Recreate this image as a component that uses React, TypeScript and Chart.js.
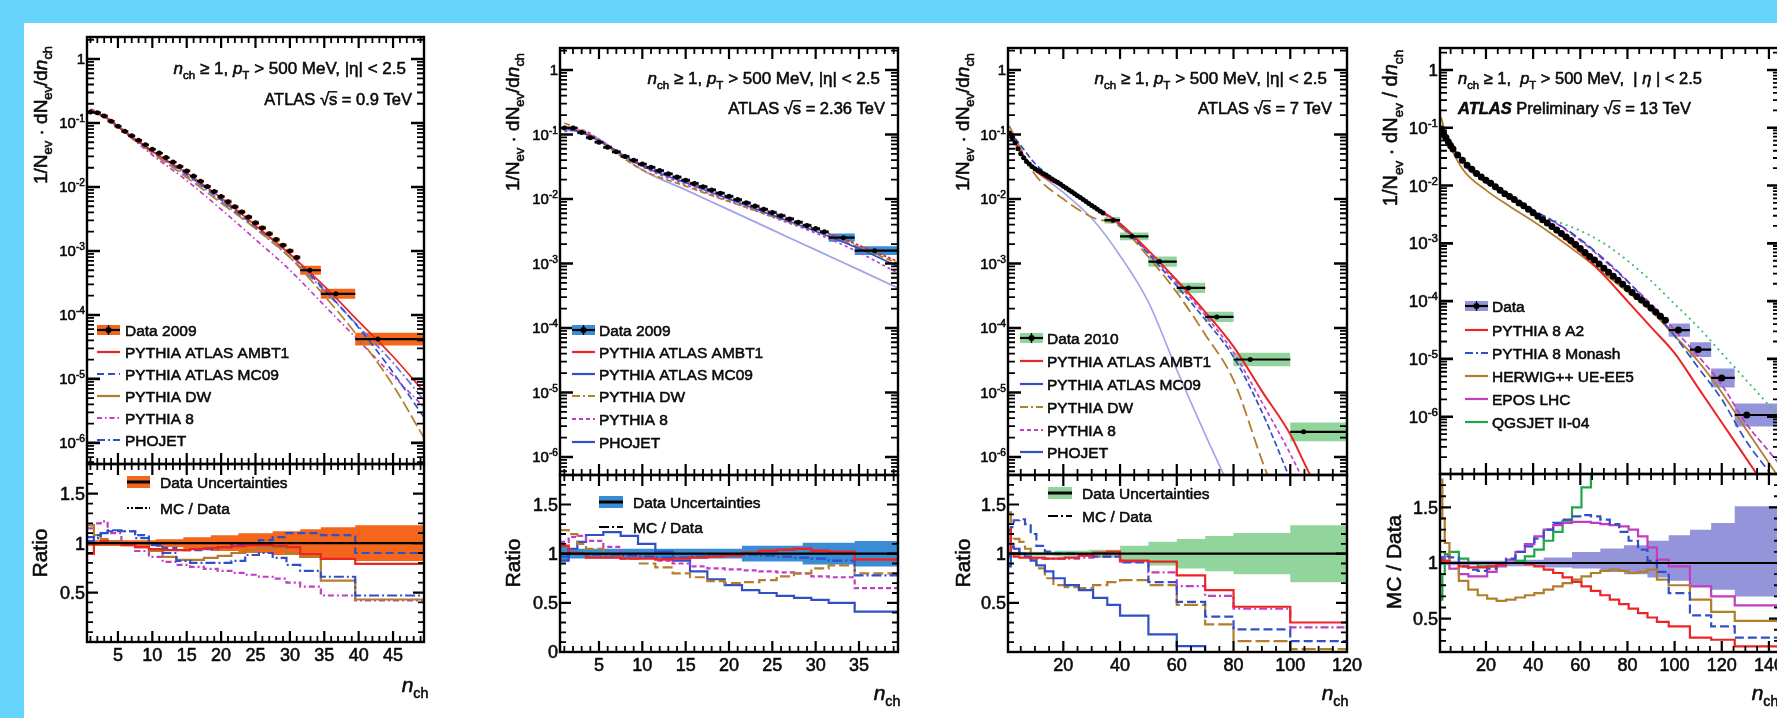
import { useEffect, useRef } from 'react';
import { Chart, registerables } from 'chart.js';

Chart.register(...registerables);

const FONT = '"Liberation Sans", Arial, Helvetica, sans-serif';
const FRAME_BLUE = '#66d4fb';

const RED = '#ec2424';
const BLUE = '#3050c8';
const BROWN = '#b27e2c';
const MAGENTA = '#c43cc4';
const GREEN = '#1ea64a';
const LAVENDER = '#a2a2ea';
const ORANGE_BAND = '#f3661c';
const BLUE_BAND = '#3a8dd5';
const GREEN_BAND = '#92d59c';
const PURPLE_BAND = '#9494da';

// ======================= DATA =======================
// ---- Panel 1 : sqrt(s) = 0.9 TeV
const p1DataEdges = [0.5, 1.5, 2.5, 3.5, 4.5, 5.5, 6.5, 7.5, 8.5, 9.5, 10.5, 11.5, 12.5, 13.5, 14.5, 15.5, 16.5, 17.5, 18.5, 19.5, 20.5, 21.5, 22.5, 23.5, 24.5, 25.5, 26.5, 27.5, 28.5, 29.5, 30.5, 31.5, 34.5, 39.5, 49.5];
const p1DataX = [1, 2, 3, 4, 5, 6, 7, 8, 9, 10, 11, 12, 13, 14, 15, 16, 17, 18, 19, 20, 21, 22, 23, 24, 25, 26, 27, 28, 29, 30, 31, 32.9, 36.7, 42.8];
const p1DataY = [0.148, 0.145, 0.129, 0.107, 0.0891, 0.0741, 0.0631, 0.0537, 0.0457, 0.0389, 0.0339, 0.0288, 0.0245, 0.0209, 0.0178, 0.0148, 0.0123, 0.0102, 0.00851, 0.00708, 0.00589, 0.0049, 0.00407, 0.00339, 0.00275, 0.00229, 0.00186, 0.00151, 0.00123, 0.001, 0.000794, 0.0005, 0.000214, 0.000042];
const p1DataErr = [0.05, 0.05, 0.05, 0.05, 0.05, 0.05, 0.05, 0.05, 0.05, 0.05, 0.05, 0.05, 0.05, 0.05, 0.05, 0.05, 0.05, 0.05, 0.05, 0.05, 0.08, 0.08, 0.08, 0.08, 0.08, 0.08, 0.08, 0.08, 0.08, 0.08, 0.08, 0.18, 0.2, 0.26];
const p1McX = [1, 3, 5, 10, 15, 20, 25, 30, 35, 40, 45, 49.5];
const p1Ambt1 = [0.148, 0.126, 0.0871, 0.0363, 0.0166, 0.00676, 0.00251, 0.000891, 0.000282, 0.0000794, 0.0000224, 0.00000631];
const p1Mc09 = [0.151, 0.129, 0.0891, 0.0363, 0.0158, 0.00631, 0.0024, 0.000891, 0.000251, 0.0000631, 0.0000126, 0.00000251];
const p1Dw = [0.158, 0.126, 0.0871, 0.0339, 0.0141, 0.00562, 0.00224, 0.000794, 0.0002, 0.0000447, 0.00000794, 0.0000012];
const p1Py8 = [0.166, 0.132, 0.0871, 0.0316, 0.0126, 0.00447, 0.00151, 0.000501, 0.000141, 0.0000398, 0.0000112, 0.00000363];
const p1Phojet = [0.151, 0.129, 0.0891, 0.0355, 0.0151, 0.00603, 0.00224, 0.000794, 0.00024, 0.0000661, 0.0000178, 0.00000468];
const p1RatioEdges = [0.5, 1.5, 2.5, 3.5, 5.5, 7.5, 9.5, 11.5, 13.5, 15.5, 17.5, 19.5, 21.5, 23.5, 25.5, 27.5, 29.5, 31.5, 34.5, 39.5, 49.5];
const p1RAmbt1 = [0.89, 1.0, 1.02, 1.0, 0.98, 0.96, 0.94, 0.93, 0.93, 0.94, 0.95, 0.96, 0.97, 0.98, 0.98, 0.97, 0.96, 0.89, 0.84, 0.79];
const p1RMc09 = [1.06, 1.08, 1.1, 1.12, 1.12, 1.08, 1.0, 0.95, 0.93, 0.93, 0.94, 0.96, 0.98, 1.0, 1.03, 1.06, 1.1, 1.1, 1.08, 0.9];
const p1RPhojet = [1.02, 1.05, 1.1, 1.13, 1.12, 1.05, 0.98, 0.9, 0.82, 0.8, 0.8, 0.8, 0.82, 0.88, 0.9, 0.85, 0.78, 0.72, 0.66, 0.47];
const p1RDw = [1.18, 1.08, 1.04, 1.02, 0.98, 0.96, 0.92, 0.86, 0.83, 0.83, 0.85, 0.87, 0.9, 0.93, 0.95, 0.95, 0.9, 0.86, 0.62, 0.43];
const p1RPy8 = [1.15, 1.2, 1.22, 1.1, 1.0, 0.92, 0.86, 0.81, 0.78, 0.76, 0.74, 0.72, 0.7, 0.68, 0.66, 0.64, 0.6, 0.56, 0.47, 0.42];
const p1BandEdges = [0.5, 10.5, 14.5, 18.5, 22.5, 27.5, 31.5, 34.5, 39.5, 49.5];
const p1BandHalf = [0.03, 0.04, 0.06, 0.08, 0.1, 0.12, 0.14, 0.16, 0.18];
const p1XTicks = [5, 10, 15, 20, 25, 30, 35, 40, 45];

// ---- Panel 2 : sqrt(s) = 2.36 TeV
const p2DataEdges = [0.5, 1.5, 2.5, 3.5, 4.5, 5.5, 6.5, 7.5, 8.5, 9.5, 10.5, 11.5, 12.5, 13.5, 14.5, 15.5, 16.5, 17.5, 18.5, 19.5, 20.5, 21.5, 22.5, 23.5, 24.5, 25.5, 26.5, 27.5, 28.5, 29.5, 30.5, 31.5, 34.5, 39.5];
const p2DataX = [1, 2, 3, 4, 5, 6, 7, 8, 9, 10, 11, 12, 13, 14, 15, 16, 17, 18, 19, 20, 21, 22, 23, 24, 25, 26, 27, 28, 29, 30, 31, 33.2, 36.8];
const p2DataY = [0.126, 0.126, 0.107, 0.0891, 0.0759, 0.0631, 0.0537, 0.0457, 0.0398, 0.0347, 0.0309, 0.0275, 0.0245, 0.0219, 0.0195, 0.0174, 0.0155, 0.0138, 0.0123, 0.011, 0.00977, 0.00871, 0.00776, 0.00692, 0.00617, 0.0055, 0.0049, 0.00437, 0.00389, 0.00347, 0.00309, 0.00251, 0.00158];
const p2DataErr = [0.06, 0.06, 0.06, 0.06, 0.06, 0.06, 0.06, 0.06, 0.06, 0.06, 0.06, 0.06, 0.06, 0.06, 0.06, 0.06, 0.06, 0.06, 0.06, 0.06, 0.06, 0.06, 0.06, 0.06, 0.06, 0.06, 0.06, 0.06, 0.06, 0.06, 0.06, 0.16, 0.17];
const p2McX = [1, 3, 5, 10, 15, 20, 25, 30, 35, 39.5];
const p2Ambt1 = [0.135, 0.112, 0.0794, 0.0339, 0.0191, 0.0107, 0.00617, 0.00347, 0.00191, 0.00107];
const p2Mc09 = [0.126, 0.107, 0.0794, 0.0324, 0.0178, 0.01, 0.00562, 0.00316, 0.0017, 0.000891];
const p2Dw = [0.151, 0.117, 0.0794, 0.0282, 0.0158, 0.00912, 0.00537, 0.00316, 0.00178, 0.001];
const p2Py8 = [0.112, 0.117, 0.0832, 0.0316, 0.0166, 0.00933, 0.00525, 0.00295, 0.00148, 0.000708];
const p2Phojet = [0.117, 0.112, 0.0851, 0.0282, 0.0138, 0.00676, 0.00331, 0.00162, 0.000794, 0.000417];
const p2RatioEdges = [0.5, 1.5, 2.5, 3.5, 5.5, 7.5, 9.5, 11.5, 13.5, 15.5, 17.5, 19.5, 21.5, 23.5, 25.5, 27.5, 29.5, 31.5, 34.5, 39.5];
const p2RAmbt1 = [1.08, 1.01, 1.0, 0.96, 0.96, 0.95, 0.95, 0.94, 0.95, 0.96, 0.97, 0.98, 1.01, 1.03, 1.04, 1.05, 1.03, 1.02, 0.94];
const p2RMc09 = [0.97, 1.0, 1.0, 0.99, 0.99, 0.98, 0.97, 0.96, 0.96, 0.97, 0.98, 0.99, 0.99, 0.98, 0.97, 0.96, 0.95, 0.93, 0.78];
const p2RDw = [1.24, 1.2, 1.1, 1.05, 1.0, 0.95, 0.9, 0.86, 0.8, 0.76, 0.72, 0.7, 0.71, 0.73, 0.77, 0.8, 0.85, 0.88, 0.8];
const p2RPy8 = [1.12, 1.17, 1.18, 1.13, 1.07, 1.0, 0.96, 0.93, 0.9, 0.87, 0.85, 0.84, 0.83, 0.82, 0.81, 0.8, 0.77, 0.76, 0.65];
const p2RPhojet = [0.93, 1.05, 1.12, 1.19, 1.22, 1.18, 1.1, 1.02, 0.93, 0.82, 0.74, 0.68, 0.63, 0.6, 0.57, 0.55, 0.53, 0.5, 0.41];
const p2BandEdges = [0.5, 1.5, 21.5, 28.5, 34.5, 39.5];
const p2BandHalf = [0.08, 0.05, 0.08, 0.11, 0.13];
const p2XTicks = [5, 10, 15, 20, 25, 30, 35];

// ---- Panel 3 : sqrt(s) = 7 TeV
const p3DataEdges = [0.5, 1.5, 2.5, 3.5, 4.5, 5.5, 6.5, 7.5, 8.5, 9.5, 10.5, 11.5, 12.5, 13.5, 14.5, 15.5, 16.5, 17.5, 18.5, 19.5, 20.5, 21.5, 22.5, 23.5, 24.5, 25.5, 26.5, 27.5, 28.5, 29.5, 30.5, 31.5, 32.5, 33.5, 34.5, 40, 50, 60, 70, 80, 100, 120];
const p3DataX = [1, 2, 3, 4, 5, 6, 7, 8, 9, 10, 11, 12, 13, 14, 15, 16, 17, 18, 19, 20, 21, 22, 23, 24, 25, 26, 27, 28, 29, 30, 31, 32, 33, 34, 37.6, 44.1, 53.9, 64.1, 74.1, 85.9, 104.7];
const p3DataY = [0.105, 0.0891, 0.0741, 0.0603, 0.0501, 0.0437, 0.038, 0.0347, 0.0316, 0.0295, 0.0275, 0.0263, 0.0245, 0.0234, 0.0219, 0.0204, 0.0191, 0.0182, 0.017, 0.0158, 0.0148, 0.0138, 0.0129, 0.012, 0.0112, 0.0105, 0.00977, 0.00912, 0.00851, 0.00794, 0.00741, 0.00692, 0.00646, 0.00603, 0.00468, 0.00263, 0.00107, 0.000417, 0.000148, 0.0000324, 0.00000245];
const p3DataErr = [0.04, 0.04, 0.04, 0.04, 0.04, 0.04, 0.04, 0.04, 0.04, 0.04, 0.04, 0.04, 0.04, 0.04, 0.04, 0.04, 0.04, 0.04, 0.04, 0.04, 0.04, 0.04, 0.04, 0.04, 0.04, 0.04, 0.04, 0.04, 0.04, 0.04, 0.04, 0.04, 0.04, 0.04, 0.12, 0.15, 0.2, 0.2, 0.2, 0.27, 0.4];
const p3McX = [1, 5, 10, 20, 30, 40, 50, 60, 70, 80, 90, 100, 105, 110];
const p3Ambt1 = [0.112, 0.0537, 0.0282, 0.0151, 0.00794, 0.00417, 0.00158, 0.00055, 0.000178, 0.0000513, 0.0000105, 0.00000224, 0.000000794, 0.000000282];
const p3Mc09 = [0.112, 0.0676, 0.0355, 0.0158, 0.00794, 0.00398, 0.00141, 0.000447, 0.000135, 0.0000355, 0.00000501, 0.000000447, 0.000000126, null];
const p3Py8 = [0.1, 0.0525, 0.0288, 0.0151, 0.00759, 0.00398, 0.00148, 0.000501, 0.000158, 0.0000417, 0.00000708, 0.00000112, 0.000000398, null];
const p3Dw = [0.135, 0.0603, 0.024, 0.01, 0.00525, 0.00372, 0.00126, 0.000355, 0.0000794, 0.0000155, 0.000000891, 0.0000000631, null, null];
const p3Phojet = [0.105, 0.0501, 0.0282, 0.0126, 0.00501, 0.00132, 0.000251, 0.0000224, 0.00000224, 0.000000251, null, null, null, null];
const p3RatioEdges = [0.5, 1.5, 2.5, 4.5, 6.5, 8.5, 10.5, 13.5, 16.5, 20.5, 25.5, 30.5, 35.5, 40, 50, 60, 70, 80, 100, 120];
const p3RAmbt1 = [1.24, 1.0, 0.97, 0.96, 0.96, 0.96, 0.96, 0.95, 0.95, 0.96, 0.98, 1.01, 1.02, 0.93, 0.92, 0.78, 0.63, 0.46, 0.3];
const p3RMc09 = [0.97, 1.27, 1.34, 1.35, 1.3, 1.2, 1.08, 1.02, 1.0, 1.0, 0.99, 0.97, 0.97, 0.91, 0.71, 0.51, 0.36, 0.23, 0.11];
const p3RPhojet = [0.87, 1.07, 1.05, 1.0, 0.97, 0.93, 0.88, 0.82, 0.75, 0.68, 0.63, 0.55, 0.48, 0.37, 0.18, 0.06, -0.2, -0.2, -0.2];
const p3RPy8 = [1.1, 1.1, 1.05, 1.0, 0.97, 0.95, 0.95, 0.95, 0.95, 0.95, 0.96, 0.97, 0.97, 0.92, 0.81, 0.67, 0.57, 0.44, 0.25];
const p3RDw = [1.42, 1.13, 1.15, 1.12, 1.05, 0.95, 0.85, 0.75, 0.68, 0.66, 0.65, 0.68, 0.71, 0.73, 0.68, 0.48, 0.28, 0.11, 0.03];
const p3BandEdges = [0.5, 17, 29, 40, 50, 60, 70, 80, 100, 120];
const p3BandHalf = [0.02, 0.03, 0.04, 0.08, 0.12, 0.15, 0.18, 0.21, 0.29];
const p3XTicks = [20, 40, 60, 80, 100, 120];

// ---- Panel 4 : sqrt(s) = 13 TeV
const p4DataEdges = [0.5, 1.5, 2.5, 3.5, 4.5, 5.5, 7, 9, 11, 13, 15, 17, 19, 21, 23, 25, 27, 29, 31, 33, 35, 37, 39, 41, 43, 45, 47, 49, 51, 53, 55, 57, 59, 61, 63, 65, 67, 69, 71, 73, 75, 77, 79, 81, 83, 85, 87, 89, 91, 93, 95, 97.5, 106.5, 115.5, 125.5, 150];
const p4DataX = [1, 2, 3, 4, 5, 6, 8, 10, 12, 14, 16, 18, 20, 22, 24, 26, 28, 30, 32, 34, 36, 38, 40, 42, 44, 46, 48, 50, 52, 54, 56, 58, 60, 62, 64, 66, 68, 70, 72, 74, 76, 78, 80, 82, 84, 86, 88, 90, 92, 94, 96, 101.6, 110, 120, 130.6];
const p4DataY = [0.0955, 0.0794, 0.0676, 0.0575, 0.049, 0.0427, 0.0339, 0.0275, 0.0224, 0.0191, 0.0162, 0.0141, 0.0123, 0.011, 0.00955, 0.00832, 0.00724, 0.00646, 0.00575, 0.00501, 0.00447, 0.00389, 0.00339, 0.00295, 0.00257, 0.00224, 0.00195, 0.0017, 0.00148, 0.00129, 0.00112, 0.000955, 0.000813, 0.000692, 0.000589, 0.000513, 0.000437, 0.000372, 0.000316, 0.000269, 0.000229, 0.000195, 0.000166, 0.000141, 0.00012, 0.000105, 0.0000891, 0.0000759, 0.0000646, 0.000055, 0.0000468, 0.0000316, 0.0000145, 0.00000468, 0.00000107];
const p4DataErr = [0.03, 0.03, 0.03, 0.03, 0.03, 0.03, 0.03, 0.03, 0.03, 0.03, 0.03, 0.03, 0.03, 0.03, 0.03, 0.03, 0.03, 0.03, 0.03, 0.03, 0.03, 0.03, 0.03, 0.06, 0.06, 0.06, 0.06, 0.06, 0.06, 0.06, 0.06, 0.06, 0.06, 0.06, 0.06, 0.06, 0.06, 0.06, 0.12, 0.12, 0.12, 0.12, 0.12, 0.12, 0.12, 0.12, 0.12, 0.12, 0.12, 0.12, 0.12, 0.3, 0.34, 0.46, 0.58];
const p4McX = [1, 3, 10, 20, 30, 40, 50, 60, 70, 80, 90, 100, 110, 120, 130, 140, 150];
const p4A2 = [0.1, 0.0676, 0.0275, 0.0123, 0.00646, 0.00331, 0.00158, 0.000708, 0.000282, 0.0001, 0.0000355, 0.0000126, 0.00000316, 0.000000794, 0.0000002, 0.0000000501, 0.0000000126];
const p4Monash = [0.1, 0.0724, 0.0269, 0.0126, 0.00676, 0.0038, 0.00224, 0.00117, 0.000537, 0.000224, 0.0000794, 0.0000251, 0.00000708, 0.000002, 0.000000398, 0.000000112, 0.0000000316];
const p4Herwig = [0.151, 0.075, 0.0195, 0.00832, 0.00437, 0.0024, 0.00126, 0.000631, 0.000302, 0.000145, 0.0000676, 0.0000251, 0.00000912, 0.00000263, 0.000000631, 0.000000158, 0.0000000398];
const p4Epos = [0.1, 0.0708, 0.0245, 0.0112, 0.00631, 0.00363, 0.00219, 0.00112, 0.000513, 0.000219, 0.0000891, 0.0000316, 0.0000112, 0.00000355, 0.000000794, 0.000000251, 0.0000000794];
const p4Qgsjet = [0.0646, 0.0676, 0.0282, 0.0126, 0.00661, 0.00355, 0.0024, 0.00166, 0.001, 0.000501, 0.000224, 0.0000891, 0.0000355, 0.0000126, 0.00000447, 0.00000158, 0.000000562];
const p4RatioEdges = [0.5, 1.5, 2.5, 4.5, 8.5, 12.5, 16.5, 20.5, 24.5, 28.5, 32.5, 36.5, 40.5, 44.5, 48.5, 52.5, 56.5, 60.5, 64.5, 68.5, 72.5, 76.5, 80.5, 84.5, 88.5, 92.5, 97.5, 106.5, 115.5, 125.5, 150];
const p4RA2 = [1.0, 1.02, 1.02, 1.0, 0.97, 0.96, 0.96, 0.97, 0.99, 1.0, 1.0, 0.99, 0.97, 0.94, 0.91, 0.87, 0.83, 0.79, 0.75, 0.71, 0.67, 0.63, 0.59, 0.55, 0.51, 0.47, 0.43, 0.33, 0.31, 0.25];
const p4RMonash = [1.0, 1.05, 1.06, 1.05, 0.97, 0.94, 0.93, 0.95, 0.99, 1.04, 1.1, 1.15, 1.22, 1.3, 1.36, 1.39, 1.42, 1.43, 1.42, 1.39, 1.35, 1.28, 1.2, 1.12, 1.02, 0.92, 0.73, 0.53, 0.43, 0.33];
const p4REpos = [1.02, 1.05, 1.02, 0.95, 0.9, 0.88, 0.88, 0.92, 0.97, 1.03, 1.1, 1.17, 1.24, 1.3, 1.34, 1.36, 1.37, 1.37, 1.36, 1.35, 1.34, 1.33, 1.3, 1.24, 1.14, 1.03, 0.97, 0.79, 0.7, 0.62];
const p4RHerwig = [1.75, 1.4, 1.18, 1.0, 0.84, 0.76, 0.71, 0.68, 0.66, 0.67, 0.69, 0.71, 0.73, 0.76, 0.79, 0.82, 0.85, 0.88, 0.91, 0.93, 0.94, 0.93, 0.91, 0.92, 0.94, 0.85, 0.8, 0.67, 0.56, 0.48];
const p4RQgsjet = [0.67, 0.9, 1.08, 1.1, 1.04, 1.0, 0.97, 0.97, 0.98, 1.0, 1.02, 1.06, 1.12, 1.2, 1.28, 1.38, 1.5, 1.68, 1.86, null, null, null, null, null, null, null, null, null, null, null];
const p4BandEdges = [0.5, 28.5, 44.5, 56.5, 68.5, 78.5, 88.5, 97.5, 106.5, 115.5, 125.5, 150];
const p4BandUp = [1.02, 1.03, 1.05, 1.1, 1.13, 1.16, 1.2, 1.25, 1.3, 1.36, 1.51];
const p4BandLo = [0.98, 0.97, 0.96, 0.95, 0.92, 0.9, 0.87, 0.84, 0.79, 0.76, 0.7];
const p4XTicks = [20, 40, 60, 80, 100, 120, 140];

const logDecadeLabels6 = [1, 0.1, 0.01, 0.001, 0.0001, 0.00001, 0.000001];

// ======================= TYPES & HELPERS =======================
type Seg = { t: string; it?: boolean; b?: boolean; sub?: boolean; sup?: boolean; over?: boolean };
type TextItem = { x: number; y: number; segs: Seg[]; size: number; align: 'left' | 'right' | 'center'; rot?: boolean };
type LegendItem = { kind: 'line' | 'data' | 'band'; x1: number; x2: number; y: number; color: string; dash?: number[]; tx: number; segs: Seg[]; size: number };
type Spec = {
  ox: number; oy: number; w: number; h: number;
  pad: { left: number; right: number; top: number; bottom: number };
  xMin: number; xMax: number; yMin: number; yMax: number; log: boolean;
  xMajor: number; xMinor: number; xLabels: number[];
  yLabels: number[]; yLabelSize: number;
  datasets: any[]; texts: TextItem[]; legend: LegendItem[];
};
type Geom = { L: number; R: number; T: number; M: number; B: number };
type Pt = { x: number; y: number | null };

const TEXT_COLOR = '#0a0a0a';

function segFont(s: Seg, size: number) {
  const sz = s.sub || s.sup ? size * 0.68 : size;
  return `${s.it ? 'italic ' : ''}${s.b ? 'bold ' : ''}${sz}px ${FONT}`;
}
function drawSegs(ctx: CanvasRenderingContext2D, segs: Seg[], x: number, y: number, size: number, align: 'left' | 'right' | 'center', color = TEXT_COLOR) {
  let w = 0;
  for (const s of segs) { ctx.font = segFont(s, size); w += ctx.measureText(s.t).width; }
  let cx = align === 'left' ? x : align === 'right' ? x - w : x - w / 2;
  ctx.textAlign = 'left';
  ctx.textBaseline = 'alphabetic';
  ctx.fillStyle = color;
  ctx.strokeStyle = color;
  ctx.setLineDash([]);
  ctx.lineJoin = 'round';
  for (const s of segs) {
    ctx.font = segFont(s, size);
    const dy = s.sub ? size * 0.28 : s.sup ? -size * 0.42 : 0;
    ctx.fillText(s.t, cx, y + dy);
    ctx.lineWidth = 0.55;
    ctx.strokeText(s.t, cx, y + dy);
    const sw = ctx.measureText(s.t).width;
    if (s.over) {
      ctx.beginPath(); ctx.lineWidth = 1.4;
      ctx.moveTo(cx - 1, y - size * 0.8); ctx.lineTo(cx + sw, y - size * 0.8); ctx.stroke();
    }
    cx += sw;
  }
}

function stepPoints(edges: number[], vals: (number | null)[]): Pt[] {
  const pts: Pt[] = vals.map((v, i) => ({ x: edges[i], y: v }));
  pts.push({ x: edges[vals.length], y: vals[vals.length - 1] });
  return pts;
}
function barPoints(edges: number[], vals: number[]): Pt[] {
  const pts: Pt[] = [];
  vals.forEach((v, i) => { pts.push({ x: edges[i], y: v }, { x: edges[i + 1], y: v }, { x: edges[i + 1], y: null }); });
  return pts;
}
function curvePoints(xs: number[], vals: (number | null)[]): Pt[] {
  return xs.map((x, i) => ({ x, y: vals[i] }));
}

function bandDs(edges: number[], up: number[], lo: number[], color: string) {
  return [
    { data: stepPoints(edges, up), stepped: true, borderWidth: 0, borderColor: 'rgba(0,0,0,0)', pointRadius: 0, fill: false, order: 20 },
    { data: stepPoints(edges, lo), stepped: true, borderWidth: 0, borderColor: 'rgba(0,0,0,0)', pointRadius: 0, fill: '-1', backgroundColor: color, order: 20 },
  ];
}
function topDataDs(edges: number[], xs: number[], ys: number[], err: number[], color: string, r: number) {
  return [
    ...bandDs(edges, ys.map((v, i) => v * (1 + err[i])), ys.map((v, i) => v / (1 + err[i])), color),
    { data: barPoints(edges, ys), borderColor: '#000', borderWidth: 2.2, pointRadius: 0, spanGaps: false, fill: false, order: 1 },
    { data: curvePoints(xs, ys), showLine: false, pointRadius: r, pointBackgroundColor: '#000', pointBorderWidth: 0, order: 0 },
  ];
}
function curveDs(xs: number[], ys: (number | null)[], color: string, dash: number[] = [], width = 1.7) {
  return { data: curvePoints(xs, ys), borderColor: color, borderWidth: width, borderDash: dash, pointRadius: 0, fill: false, spanGaps: false, cubicInterpolationMode: 'monotone', order: 5 };
}
function stepDs(edges: number[], ys: (number | null)[], color: string, dash: number[] = [], width = 2.2) {
  return { data: stepPoints(edges, ys), stepped: true, borderColor: color, borderWidth: width, borderDash: dash, pointRadius: 0, fill: false, spanGaps: false, order: 5 };
}
function unityDs(x0: number, x1: number) {
  return { data: [{ x: x0, y: 1 }, { x: x1, y: 1 }], borderColor: '#000', borderWidth: 2.2, pointRadius: 0, fill: false, order: 2 };
}

function decoPlugin(s: Spec) {
  return {
    id: 'rootDeco',
    afterDraw(chart: any) {
      const ctx = chart.ctx as CanvasRenderingContext2D;
      const a = chart.chartArea;
      const xs = chart.scales.x, ys = chart.scales.y;
      ctx.save();
      ctx.strokeStyle = '#000';
      ctx.setLineDash([]);
      ctx.lineCap = 'butt';
      const eps = 1e-6;
      const k0 = Math.ceil((s.xMin + eps) / s.xMinor), k1 = Math.floor((s.xMax - eps) / s.xMinor);
      for (let k = k0; k <= k1; k++) {
        const v = k * s.xMinor;
        const major = Math.abs(v / s.xMajor - Math.round(v / s.xMajor)) < 1e-6;
        const len = major ? 11 : 6;
        const px = xs.getPixelForValue(v);
        ctx.lineWidth = major ? 2.2 : 1.8;
        ctx.beginPath();
        ctx.moveTo(px, a.bottom); ctx.lineTo(px, a.bottom - len);
        ctx.moveTo(px, a.top); ctx.lineTo(px, a.top + len);
        ctx.stroke();
      }
      const yt = (v: number, len: number, w: number) => {
        const py = ys.getPixelForValue(v);
        ctx.lineWidth = w;
        ctx.beginPath();
        ctx.moveTo(a.left, py); ctx.lineTo(a.left + len, py);
        ctx.moveTo(a.right, py); ctx.lineTo(a.right - len, py);
        ctx.stroke();
      };
      if (s.log) {
        const d0 = Math.floor(Math.log10(s.yMin)), d1 = Math.ceil(Math.log10(s.yMax));
        for (let d = d0; d <= d1; d++) {
          for (let k = 1; k <= 9; k++) {
            const v = k * Math.pow(10, d);
            if (v <= s.yMin || v >= s.yMax) continue;
            yt(v, k === 1 ? 13 : 7, k === 1 ? 2.6 : 1.8);
          }
        }
      } else {
        for (let k = Math.ceil(s.yMin * 10 + eps); k <= Math.floor(s.yMax * 10 - eps); k++) {
          const major = k % 5 === 0;
          yt(k / 10, major ? 11 : 6, major ? 2.2 : 1.8);
        }
      }
      ctx.lineWidth = 2.4;
      ctx.strokeRect(a.left, a.top, a.right - a.left, a.bottom - a.top);

      for (const v of s.yLabels) {
        const py = ys.getPixelForValue(v);
        if (s.log) {
          const d = Math.round(Math.log10(v));
          const segs: Seg[] = d === 0 ? [{ t: '1' }] : [{ t: '10' }, { t: String(d), sup: true }];
          drawSegs(ctx, segs, a.left - 2, py + s.yLabelSize * 0.36, s.yLabelSize, 'right');
        } else {
          drawSegs(ctx, [{ t: String(v) }], a.left - 2, py + s.yLabelSize * 0.36, s.yLabelSize, 'right');
        }
      }
      for (const v of s.xLabels) {
        drawSegs(ctx, [{ t: String(v) }], xs.getPixelForValue(v), a.bottom + 19, 18, 'center');
      }
      for (const L of s.legend) {
        const x1 = L.x1 - s.ox, x2 = L.x2 - s.ox, y = L.y - s.oy;
        if (L.kind === 'line') {
          ctx.setLineDash(L.dash || []);
          ctx.strokeStyle = L.color; ctx.lineWidth = 2.2;
          ctx.beginPath(); ctx.moveTo(x1, y); ctx.lineTo(x2, y); ctx.stroke();
          ctx.setLineDash([]);
        } else if (L.kind === 'data') {
          ctx.fillStyle = L.color; ctx.fillRect(x1, y - 5, x2 - x1, 10);
          ctx.strokeStyle = '#000'; ctx.lineWidth = 2.2;
          ctx.beginPath(); ctx.moveTo(x1, y); ctx.lineTo(x2, y); ctx.stroke();
          ctx.lineWidth = 1.4;
          ctx.beginPath(); ctx.moveTo((x1 + x2) / 2, y - 5); ctx.lineTo((x1 + x2) / 2, y + 5); ctx.stroke();
          ctx.fillStyle = '#000'; ctx.beginPath(); ctx.arc((x1 + x2) / 2, y, 3, 0, Math.PI * 2); ctx.fill();
        } else {
          ctx.fillStyle = L.color; ctx.fillRect(x1, y - 6, x2 - x1, 12);
          ctx.strokeStyle = '#000'; ctx.lineWidth = 3;
          ctx.beginPath(); ctx.moveTo(x1, y); ctx.lineTo(x2, y); ctx.stroke();
        }
        drawSegs(ctx, L.segs, L.tx - s.ox, y + L.size * 0.36, L.size, 'left');
      }
      for (const T of s.texts) {
        const x = T.x - s.ox, y = T.y - s.oy;
        if (T.rot) {
          ctx.save(); ctx.translate(x, y); ctx.rotate(-Math.PI / 2);
          drawSegs(ctx, T.segs, 0, T.size * 0.36, T.size, 'center');
          ctx.restore();
        } else drawSegs(ctx, T.segs, x, y, T.size, T.align);
      }
      ctx.restore();
    },
  };
}

function buildChart(canvas: HTMLCanvasElement, s: Spec) {
  return new Chart(canvas, {
    type: 'line',
    data: { datasets: s.datasets },
    options: {
      animation: false, responsive: false, maintainAspectRatio: false, devicePixelRatio: 1,
      events: [],
      layout: { padding: s.pad },
      plugins: { legend: { display: false }, tooltip: { enabled: false } },
      scales: {
        x: { type: 'linear', min: s.xMin, max: s.xMax, display: false },
        y: { type: s.log ? 'logarithmic' : 'linear', min: s.yMin, max: s.yMax, display: false },
      },
      elements: { point: { radius: 0 } },
    },
    plugins: [decoPlugin(s)],
  } as any);
}

function topBox(g: Geom) {
  const pad = { left: 92, right: 14, top: 10, bottom: 6 };
  return { ox: g.L - pad.left, oy: g.T - pad.top, w: g.R - g.L + pad.left + pad.right, h: g.M - g.T + pad.top + pad.bottom, pad };
}
function ratioBox(g: Geom) {
  const pad = { left: 92, right: 36, top: 6, bottom: 66 };
  return { ox: g.L - pad.left, oy: g.M - pad.top, w: g.R - g.L + pad.left + pad.right, h: g.B - g.M + pad.top + pad.bottom, pad };
}
function legend(x1: number, x2: number, tx: number, rows: number[], items: { kind: 'line' | 'data' | 'band'; color: string; dash?: number[]; segs: Seg[] }[], size = 15.5): LegendItem[] {
  return items.map((it, i) => ({ ...it, x1, x2, tx, y: rows[i], size }));
}
const txt = (t: string): Seg[] => [{ t }];
const NCH: Seg[] = [{ t: 'n', it: true }, { t: 'ch', sub: true }];
const YTITLE: Seg[] = [{ t: '1/N' }, { t: 'ev', sub: true }, { t: ' · dN' }, { t: 'ev', sub: true }, { t: '/d' }, { t: 'n', it: true }, { t: 'ch', sub: true }];
const YTITLE4: Seg[] = [{ t: '1/N' }, { t: 'ev', sub: true }, { t: ' · dN' }, { t: 'ev', sub: true }, { t: ' / d' }, { t: 'n', it: true }, { t: 'ch', sub: true }];
const CUTS: Seg[] = [{ t: 'n', it: true }, { t: 'ch', sub: true }, { t: ' ≥ 1, ' }, { t: 'p', it: true }, { t: 'T', sub: true }, { t: ' > 500 MeV, |η| < 2.5' }];
const CUTS4: Seg[] = [{ t: 'n', it: true }, { t: 'ch', sub: true }, { t: ' ≥ 1,  ' }, { t: 'p', it: true }, { t: 'T', sub: true }, { t: ' > 500 MeV,  | ' }, { t: 'η', it: true }, { t: ' | < 2.5' }];
const atlas = (e: string): Seg[] => [{ t: 'ATLAS ' }, { t: '√' }, { t: 's', over: true }, { t: ` = ${e} TeV` }];

// ======================= PANELS =======================
function makeSpecs(): Spec[] {
  const specs: Spec[] = [];
  // ---------- Panel 1
  {
    const g: Geom = { L: 87, R: 424, T: 37, M: 464, B: 642 };
    const tb = topBox(g), rb = ratioBox(g);
    specs.push({
      ...tb, xMin: 0.5, xMax: 49.5, yMin: 4.68e-7, yMax: 2.21, log: true, xMajor: 5, xMinor: 1, xLabels: [],
      yLabels: logDecadeLabels6, yLabelSize: 15,
      datasets: [
        ...topDataDs(p1DataEdges, p1DataX, p1DataY, p1DataErr, ORANGE_BAND, 2.5),
        curveDs(p1McX, p1Ambt1, RED),
        curveDs(p1McX, p1Mc09, BLUE, [7, 4]),
        curveDs(p1McX, p1Dw, BROWN, [12, 4]),
        curveDs(p1McX, p1Py8, MAGENTA, [5, 3, 1.5, 3]),
        curveDs(p1McX, p1Phojet, '#6a78dc', [8, 3, 2, 3]),
      ],
      texts: [
        { x: 406, y: 74, segs: CUTS, size: 17, align: 'right' },
        { x: 412, y: 105, segs: atlas('0.9'), size: 16.5, align: 'right' },
        { x: 40, y: 115, segs: YTITLE, size: 19, align: 'center', rot: true },
      ],
      legend: legend(97, 120, 125, [330, 352, 374, 396, 418, 440], [
        { kind: 'data', color: ORANGE_BAND, segs: txt('Data 2009') },
        { kind: 'line', color: RED, segs: txt('PYTHIA ATLAS AMBT1') },
        { kind: 'line', color: BLUE, dash: [7, 4], segs: txt('PYTHIA ATLAS MC09') },
        { kind: 'line', color: BROWN, segs: txt('PYTHIA DW') },
        { kind: 'line', color: MAGENTA, dash: [5, 3, 1.5, 3], segs: txt('PYTHIA 8') },
        { kind: 'line', color: BLUE, dash: [8, 3, 2, 3], segs: txt('PHOJET') },
      ]),
    });
    specs.push({
      ...rb, xMin: 0.5, xMax: 49.5, yMin: 0, yMax: 1.8, log: false, xMajor: 5, xMinor: 1, xLabels: p1XTicks,
      yLabels: [0.5, 1, 1.5], yLabelSize: 18,
      datasets: [
        ...bandDs(p1BandEdges, p1BandHalf.map((h) => 1 + h), p1BandHalf.map((h) => 1 - h), ORANGE_BAND),
        unityDs(0.5, 49.5),
        stepDs(p1RatioEdges, p1RAmbt1, RED),
        stepDs(p1RatioEdges, p1RMc09, BLUE, [8, 4]),
        stepDs(p1RatioEdges, p1RPhojet, BLUE, [10, 3, 2, 3]),
        stepDs(p1RatioEdges, p1RDw, BROWN),
        stepDs(p1RatioEdges, p1RPy8, MAGENTA, [6, 3, 2, 3]),
      ],
      texts: [
        { x: 39, y: 553, segs: txt('Ratio'), size: 21, align: 'center', rot: true },
        { x: 415, y: 692, segs: NCH, size: 21, align: 'center' },
      ],
      legend: legend(127, 150, 160, [482, 508], [
        { kind: 'band', color: ORANGE_BAND, segs: txt('Data Uncertainties') },
        { kind: 'line', color: '#000', dash: [2, 2, 2, 2, 8, 2], segs: txt('MC / Data') },
      ]),
    });
  }
  // ---------- Panel 2
  {
    const g: Geom = { L: 560, R: 898, T: 48, M: 475, B: 652 };
    const tb = topBox(g), rb = ratioBox(g);
    specs.push({
      ...tb, xMin: 0.5, xMax: 39.5, yMin: 5.25e-7, yMax: 2.19, log: true, xMajor: 5, xMinor: 1, xLabels: [],
      yLabels: logDecadeLabels6, yLabelSize: 15,
      datasets: [
        ...topDataDs(p2DataEdges, p2DataX, p2DataY, p2DataErr, BLUE_BAND, 2.5),
        curveDs(p2McX, p2Ambt1, RED, [3, 2]),
        curveDs(p2McX, p2Mc09, BLUE),
        curveDs(p2McX, p2Dw, BROWN, [6, 3]),
        curveDs(p2McX, p2Py8, MAGENTA, [3, 3]),
        curveDs(p2McX, p2Phojet, LAVENDER, [], 1.8),
      ],
      texts: [
        { x: 880, y: 84, segs: CUTS, size: 17, align: 'right' },
        { x: 885, y: 114, segs: atlas('2.36'), size: 16.5, align: 'right' },
        { x: 512, y: 122, segs: YTITLE, size: 19, align: 'center', rot: true },
      ],
      legend: legend(572, 595, 599, [330, 352, 374, 396, 419, 442], [
        { kind: 'data', color: BLUE_BAND, segs: txt('Data 2009') },
        { kind: 'line', color: RED, segs: txt('PYTHIA ATLAS AMBT1') },
        { kind: 'line', color: BLUE, segs: txt('PYTHIA ATLAS MC09') },
        { kind: 'line', color: BROWN, dash: [8, 3, 2, 3], segs: txt('PYTHIA DW') },
        { kind: 'line', color: MAGENTA, dash: [4, 3], segs: txt('PYTHIA 8') },
        { kind: 'line', color: BLUE, segs: txt('PHOJET') },
      ]),
    });
    specs.push({
      ...rb, xMin: 0.5, xMax: 39.5, yMin: 0, yMax: 1.8, log: false, xMajor: 5, xMinor: 1, xLabels: p2XTicks,
      yLabels: [0, 0.5, 1, 1.5], yLabelSize: 18,
      datasets: [
        ...bandDs(p2BandEdges, p2BandHalf.map((h) => 1 + h), p2BandHalf.map((h) => 1 - h), BLUE_BAND),
        unityDs(0.5, 39.5),
        stepDs(p2RatioEdges, p2RAmbt1, RED, [], 2.4),
        stepDs(p2RatioEdges, p2RMc09, BLUE, [10, 3, 2, 3]),
        stepDs(p2RatioEdges, p2RDw, BROWN, [10, 4]),
        stepDs(p2RatioEdges, p2RPy8, MAGENTA, [5, 3]),
        stepDs(p2RatioEdges, p2RPhojet, BLUE),
      ],
      texts: [
        { x: 512, y: 563, segs: txt('Ratio'), size: 21, align: 'center', rot: true },
        { x: 887, y: 700, segs: NCH, size: 21, align: 'center' },
      ],
      legend: legend(599, 623, 633, [502, 527], [
        { kind: 'band', color: BLUE_BAND, segs: txt('Data Uncertainties') },
        { kind: 'line', color: '#000', dash: [10, 3, 2, 3], segs: txt('MC / Data') },
      ]),
    });
  }
  // ---------- Panel 3
  {
    const g: Geom = { L: 1008, R: 1347, T: 48, M: 475, B: 652 };
    const tb = topBox(g), rb = ratioBox(g);
    specs.push({
      ...tb, xMin: 0.5, xMax: 120, yMin: 5.25e-7, yMax: 2.19, log: true, xMajor: 20, xMinor: 5, xLabels: [],
      yLabels: logDecadeLabels6, yLabelSize: 15,
      datasets: [
        ...topDataDs(p3DataEdges, p3DataX, p3DataY, p3DataErr, GREEN_BAND, 2.5),
        curveDs(p3McX, p3Ambt1, RED, [], 2),
        curveDs(p3McX, p3Mc09, BLUE, [6, 3]),
        curveDs(p3McX, p3Py8, MAGENTA, [4, 3]),
        curveDs(p3McX, p3Dw, BROWN, [12, 5], 1.8),
        curveDs(p3McX, p3Phojet, LAVENDER, [], 1.6),
      ],
      texts: [
        { x: 1327, y: 84, segs: CUTS, size: 17, align: 'right' },
        { x: 1332, y: 114, segs: atlas('7'), size: 16.5, align: 'right' },
        { x: 962, y: 122, segs: YTITLE, size: 19, align: 'center', rot: true },
      ],
      legend: legend(1020, 1043, 1047, [338, 361, 384, 407, 430, 452], [
        { kind: 'data', color: GREEN_BAND, segs: txt('Data 2010') },
        { kind: 'line', color: RED, segs: txt('PYTHIA ATLAS AMBT1') },
        { kind: 'line', color: BLUE, segs: txt('PYTHIA ATLAS MC09') },
        { kind: 'line', color: BROWN, dash: [8, 3, 2, 3], segs: txt('PYTHIA DW') },
        { kind: 'line', color: MAGENTA, dash: [4, 3], segs: txt('PYTHIA 8') },
        { kind: 'line', color: BLUE, segs: txt('PHOJET') },
      ]),
    });
    specs.push({
      ...rb, xMin: 0.5, xMax: 120, yMin: 0, yMax: 1.8, log: false, xMajor: 20, xMinor: 5, xLabels: p3XTicks,
      yLabels: [0.5, 1, 1.5], yLabelSize: 18,
      datasets: [
        ...bandDs(p3BandEdges, p3BandHalf.map((h) => 1 + h), p3BandHalf.map((h) => 1 - h), GREEN_BAND),
        unityDs(0.5, 120),
        stepDs(p3RatioEdges, p3RAmbt1, RED),
        stepDs(p3RatioEdges, p3RMc09, BLUE, [9, 4]),
        stepDs(p3RatioEdges, p3RPhojet, BLUE),
        stepDs(p3RatioEdges, p3RPy8, MAGENTA, [8, 3, 2, 3]),
        stepDs(p3RatioEdges, p3RDw, BROWN, [14, 4]),
      ],
      texts: [
        { x: 962, y: 563, segs: txt('Ratio'), size: 21, align: 'center', rot: true },
        { x: 1335, y: 700, segs: NCH, size: 21, align: 'center' },
      ],
      legend: legend(1048, 1072, 1082, [493, 516], [
        { kind: 'band', color: GREEN_BAND, segs: txt('Data Uncertainties') },
        { kind: 'line', color: '#000', dash: [10, 3, 2, 3], segs: txt('MC / Data') },
      ]),
    });
  }
  // ---------- Panel 4
  {
    const g: Geom = { L: 1440, R: 1780, T: 48, M: 474, B: 652 };
    const tb = topBox(g), rb = ratioBox(g);
    specs.push({
      ...tb, xMin: 0.5, xMax: 144.7, yMin: 1.02e-7, yMax: 2.4, log: true, xMajor: 20, xMinor: 5, xLabels: [],
      yLabels: logDecadeLabels6, yLabelSize: 17,
      datasets: [
        ...topDataDs(p4DataEdges, p4DataX, p4DataY, p4DataErr, PURPLE_BAND, 3.5),
        curveDs(p4McX, p4A2, RED, [], 2),
        curveDs(p4McX, p4Monash, BLUE, [8, 4]),
        curveDs(p4McX, p4Herwig, BROWN, [], 1.8),
        curveDs(p4McX, p4Epos, MAGENTA, [6, 3]),
        curveDs(p4McX, p4Qgsjet, '#3cbf62', [2, 4], 1.8),
      ],
      texts: [
        { x: 1458, y: 84, segs: CUTS4, size: 16.5, align: 'left' },
        { x: 1458, y: 114, segs: [{ t: 'ATLAS', b: true, it: true }, { t: ' Preliminary ' }, { t: '√' }, { t: 's', it: true, over: true }, { t: ' = 13 TeV' }], size: 16.5, align: 'left' },
        { x: 1390, y: 128, segs: YTITLE4, size: 20, align: 'center', rot: true },
      ],
      legend: legend(1465, 1488, 1492, [306, 330, 353, 376, 399, 422], [
        { kind: 'data', color: PURPLE_BAND, segs: txt('Data') },
        { kind: 'line', color: RED, segs: txt('PYTHIA 8 A2') },
        { kind: 'line', color: BLUE, dash: [8, 3, 2, 3], segs: txt('PYTHIA 8 Monash') },
        { kind: 'line', color: BROWN, segs: txt('HERWIG++ UE-EE5') },
        { kind: 'line', color: MAGENTA, segs: txt('EPOS LHC') },
        { kind: 'line', color: GREEN, segs: txt('QGSJET II-04') },
      ]),
    });
    specs.push({
      ...rb, xMin: 0.5, xMax: 144.7, yMin: 0.2, yMax: 1.8, log: false, xMajor: 20, xMinor: 5, xLabels: p4XTicks,
      yLabels: [0.5, 1, 1.5], yLabelSize: 18,
      datasets: [
        ...bandDs(p4BandEdges, p4BandUp, p4BandLo, PURPLE_BAND),
        unityDs(0.5, 144.7),
        stepDs(p4RatioEdges, p4RA2, RED),
        stepDs(p4RatioEdges, p4RMonash, BLUE, [9, 4]),
        stepDs(p4RatioEdges, p4RHerwig, BROWN),
        stepDs(p4RatioEdges, p4REpos, MAGENTA),
        stepDs(p4RatioEdges, p4RQgsjet, GREEN),
      ],
      texts: [
        { x: 1393, y: 562, segs: txt('MC / Data'), size: 21, align: 'center', rot: true },
        { x: 1765, y: 700, segs: NCH, size: 21, align: 'center' },
      ],
      legend: [],
    });
  }
  return specs;
}

const SPECS = makeSpecs();

export default function App() {
  const refs = useRef<(HTMLCanvasElement | null)[]>([]);
  useEffect(() => {
    const charts = SPECS.map((s, i) => buildChart(refs.current[i] as HTMLCanvasElement, s));
    return () => { charts.forEach((c) => c.destroy()); };
  }, []);
  return (
    <div style={{ position: 'fixed', left: 0, top: 0, width: 1777, height: 718, overflow: 'hidden', background: '#fff' }}>
      <div style={{ position: 'absolute', left: 0, top: 0, width: 1777, height: 718, filter: 'blur(0.45px)' }}>
        {SPECS.map((s, i) => (
          <canvas
            key={i}
            ref={(el) => { refs.current[i] = el; }}
            width={s.w}
            height={s.h}
            style={{ position: 'absolute', left: s.ox, top: s.oy, width: s.w, height: s.h }}
          />
        ))}
      </div>
      <div style={{ position: 'absolute', left: 0, top: 0, width: 1777, height: 23, background: FRAME_BLUE }} />
      <div style={{ position: 'absolute', left: 0, top: 0, width: 24, height: 718, background: FRAME_BLUE }} />
    </div>
  );
}
